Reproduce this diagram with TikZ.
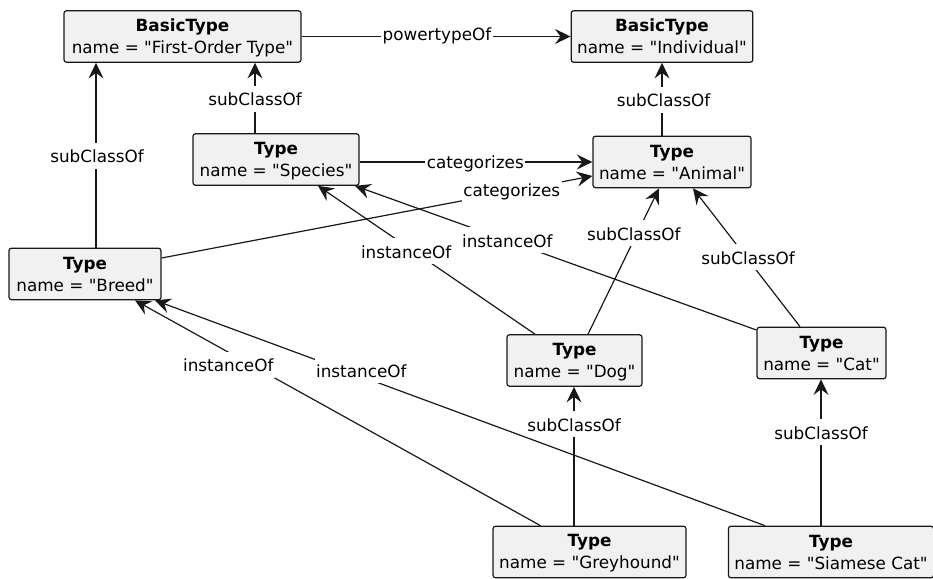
\documentclass[tikz,border=0pt]{standalone}
\usepackage{fontspec}
\setmainfont{DejaVu Sans}[Ligatures=TeXOff]
\usetikzlibrary{arrows.meta,calc}

\definecolor{umlline}{HTML}{181818}
\definecolor{umlfill}{HTML}{F1F1F1}

\newcommand{\objtext}[2]{\rule{0pt}{15pt}\textbf{#1}\\#2\rule[-3pt]{0pt}{3pt}}

\tikzset{
  obj/.style={draw=umlline, fill=umlfill, rounded corners=2.5pt, line width=1.2pt,
    minimum height=51.5pt, inner xsep=6pt, inner ysep=0pt, align=center,
    font=\fontsize{16.8}{22}\selectfont},
  arr/.style={draw=umlline, line width=1.2pt,
    -{Stealth[length=15.6pt, width=15pt, inset=5.6pt]}},
  lab/.style={fill=white, inner xsep=1.5pt, inner ysep=0pt, text height=20pt,
    text depth=6pt, anchor=base, font=\fontsize{16.8}{20}\selectfont}
}

\begin{document}
\begin{tikzpicture}[x=1pt, y=-1pt]
\useasboundingbox (0,0) rectangle (933,578);

% objects
\node[obj, minimum width=237pt] (fo) at (182.5,36.5) {\objtext{BasicType}{name = "First-Order Type"}};
\node[obj, minimum width=178pt] (ind) at (662,36.5) {\objtext{BasicType}{name = "Individual"}};
\node[obj, minimum width=166pt] (species) at (276,159.5) {\objtext{Type}{name = "Species"}};
\node[obj, minimum width=158pt] (animal) at (672,162) {\objtext{Type}{name = "Animal"}};
\node[obj, minimum width=152pt] (breed) at (85,274) {\objtext{Type}{name = "Breed"}};
\node[obj, minimum width=135pt] (dog) at (574.5,360.5) {\objtext{Type}{name = "Dog"}};
\node[obj, minimum width=129pt] (cat) at (821.5,353) {\objtext{Type}{name = "Cat"}};
\node[obj, minimum width=193pt] (grey) at (589.5,552) {\objtext{Type}{name = "Greyhound"}};
\node[obj, minimum width=204pt] (siam) at (831,552) {\objtext{Type}{name = "Siamese Cat"}};

% connector end points
\coordinate (sp1) at ($(species.north)+(-21,0)$);
\coordinate (br1) at ($(breed.north)+(11,0)$);
\coordinate (an1) at ($(animal.north)+(-10,0)$);
\coordinate (gr1) at ($(grey.north)+(-15.5,0)$);
\coordinate (si1) at ($(siam.north)+(-10,0)$);

% connectors
\draw[arr] (fo) -- (ind);
\draw[arr] (sp1) -- (sp1 |- fo.south);
\draw[arr] (br1) -- (br1 |- fo.south);
\draw[arr] (an1) -- (an1 |- ind.south);
\draw[arr] (species.east |- animal.west) -- (animal.west);
\draw[arr] ($(breed.east)+(0,-16)$) -- ($(animal.west)+(0,14)$);
\draw[arr] ($(dog.north)+(-39.5,0)$) -- ($(species.south)+(42,0)$);
\draw[arr] ($(cat.west)+(0,-23)$) -- ($(species.south)+(79,0)$);
\draw[arr] ($(dog.north)+(13.5,0)$) -- ($(animal.south)+(-13,0)$);
\draw[arr] ($(cat.north)+(-21.5,0)$) -- ($(animal.south)+(21,0)$);
\draw[arr] ($(grey.north)+(-49,0)$) -- ($(breed.south)+(50,0)$);
\draw[arr] ($(siam.north)+(-66,0)$) -- ($(breed.south)+(70,0)$);
\draw[arr] (gr1) -- (gr1 |- dog.south);
\draw[arr] (si1) -- (si1 |- cat.south);

% connector labels
\node[lab] (l1) at (437,41) {powertypeOf};
\node[lab] (l2) at (255,105.7) {subClassOf};
\node[lab] (l3) at (97,162.5) {subClassOf};
\node[lab] (l4) at (663.5,106.7) {subClassOf};
\node[lab] (l5) at (475.3,168.3) {categorizes};
\node[lab] (l6) at (511.7,196.7) {categorizes};
\node[lab] (l7) at (406.2,258.3) {instanceOf};
\node[lab] (l8) at (507.3,247.3) {instanceOf};
\node[lab] (l9) at (633.7,240) {subClassOf};
\node[lab] (l10) at (748,264) {subClassOf};
\node[lab] (l11) at (228.3,371.7) {instanceOf};
\node[lab] (l12) at (361.3,377.3) {instanceOf};
\node[lab] (l13) at (574,431) {subClassOf};
\node[lab] (l14) at (821,439.3) {subClassOf};
\end{tikzpicture}
\end{document}
